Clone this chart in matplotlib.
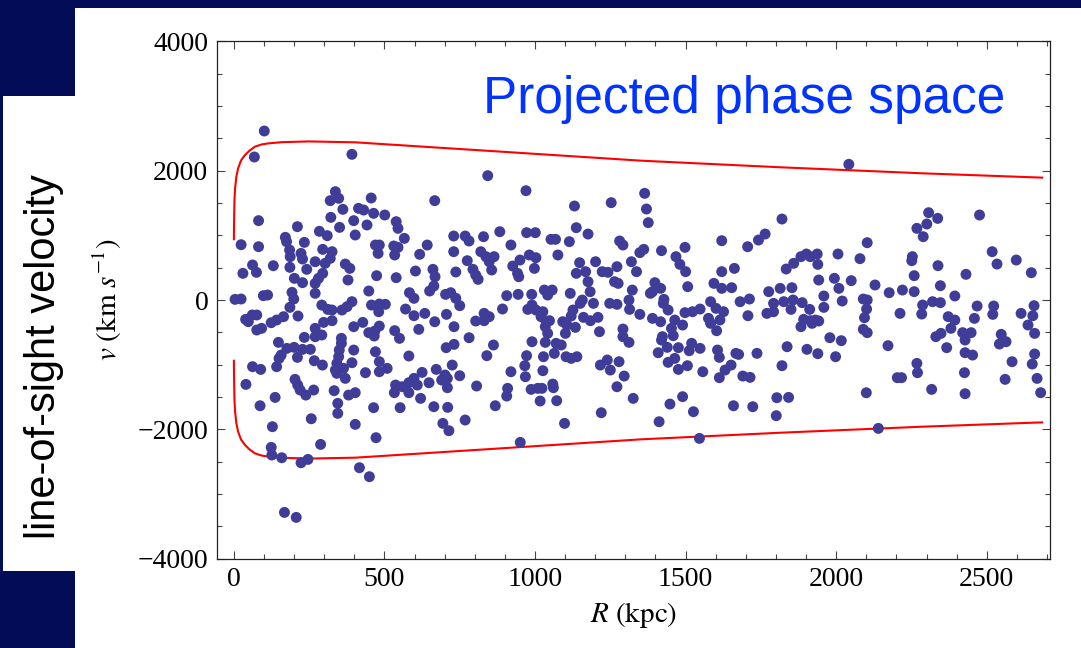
import matplotlib
matplotlib.use("Agg")
import matplotlib.pyplot as plt
from matplotlib.patches import Rectangle
from matplotlib.ticker import MultipleLocator

# projected radius R (kpc), line-of-sight velocity v (km/s)
band_0_400 = [
    (101, 2613), (68, 2211), (392, 2252), (337, 1675), (320, 1536), (348, 1572), (362, 1402),
    (82, 1227), (322, 1278), (351, 1123), (398, 1227), (211, 1134), (284, 1062), (310, 995),
    (403, 1005), (24, 855), (82, 824), (171, 969), (175, 902), (234, 891), (185, 773), (187, 670),
    (223, 721), (228, 634), (295, 783), (326, 747), (320, 644), (303, 567), (270, 592), (370, 556),
    (385, 489), (379, 309), (62, 541), (75, 428), (30, 412), (131, 530), (186, 505), (242, 474),
    (201, 335), (228, 268), (270, 257), (281, 335), (295, 412), (270, 103), (193, 118), (199, 15),
    (4, 10), (24, 15), (98, 67), (112, 77), (186, -114), (213, -248), (292, -78), (312, -145),
    (326, -155), (359, -155), (376, -103), (392, -26), (39, -299), (61, -232), (76, -232),
    (48, -335), (76, -464), (92, -438), (124, -351), (142, -310), (165, -258), (298, -346),
    (270, -438), (326, -320), (398, -413), (234, -578), (270, -567), (292, -541), (148, -655),
    (176, -748), (200, -732), (157, -851), (150, -903), (228, -763), (254, -763), (211, -887),
    (357, -593), (357, -670), (350, -774), (348, -877), (342, -980), (337, -1083), (342, -1134),
    (364, -1057), (370, -1212), (398, -774), (267, -939), (294, -1006), (392, -970), (62, -1031),
    (89, -1073), (142, -1031), (40, -1305), (203, -1227), (212, -1315), (220, -1392), (239, -1470),
    (265, -1392), (333, -1402), (381, -1470), (403, -1433), (137, -1506), (87, -1635),
    (345, -1598), (345, -1753), (257, -1836), (403, -1923), (128, -1959), (288, -2233),
    (124, -2279), (126, -2397), (159, -2439), (223, -2516), (246, -2465), (168, -3284),
    (207, -3361),
]

band_400_870 = [
    (843, 1922), (456, 1577), (667, 1536), (414, 1417), (431, 1391), (464, 1340), (501, 1314),
    (442, 1160), (539, 1211), (545, 1108), (566, 953), (470, 850), (483, 850), (479, 721),
    (531, 835), (545, 814), (534, 696), (642, 850), (617, 706), (730, 989), (768, 989), (781, 912),
    (829, 979), (730, 747), (775, 608), (820, 747), (837, 670), (848, 592), (856, 464), (864, 670),
    (794, 474), (803, 386), (811, 319), (737, 433), (603, 448), (661, 474), (668, 360), (474, 376),
    (539, 345), (448, 139), (583, 113), (598, 26), (570, -140), (598, -243), (650, 139), (664, 216),
    (703, 87), (720, 113), (737, 26), (750, -88), (457, -78), (483, -62), (503, -67), (481, -181),
    (634, -207), (667, -336), (706, -222), (803, -325), (831, -207), (848, -258), (831, -320),
    (428, -346), (448, -505), (468, -480), (483, -403), (466, -557), (534, -474), (550, -593),
    (614, -454), (731, -413), (781, -583), (705, -737), (731, -686), (862, -696), (840, -861),
    (470, -800), (483, -954), (483, -1109), (509, -1057), (581, -866), (437, -1124), (672, -1073),
    (725, -1006), (701, -1160), (709, -1212), (750, -1171), (709, -1356), (690, -1238),
    (625, -1119), (648, -1279), (620, -1521), (609, -1315), (598, -1212), (581, -1279),
    (559, -1341), (581, -1433), (537, -1315), (533, -1433), (806, -1330), (868, -1635),
    (464, -1665), (552, -1665), (664, -1650), (710, -1660), (768, -1856), (694, -1908),
    (714, -2021), (472, -2129), (417, -2593), (450, -2732),
]

band_870_1340 = [
    (970, 1690), (1131, 1453), (1253, 1505), (883, 1056), (972, 1041), (1001, 1041), (920, 850),
    (1053, 938), (1068, 938), (1137, 1118), (1176, 1020), (1114, 902), (1281, 912), (1292, 850),
    (1076, 696), (981, 696), (1003, 654), (998, 489), (926, 525), (950, 618), (942, 412),
    (946, 360), (1148, 577), (1137, 412), (1168, 438), (1201, 592), (1223, 438), (1242, 428),
    (1272, 515), (1320, 592), (1337, 438), (1264, 283), (1276, 257), (1176, 283), (1183, 128),
    (1117, 103), (1031, 154), (1057, 154), (1042, 77), (906, 67), (944, 87), (989, 87), (892, -139),
    (976, -145), (990, -78), (1003, -155), (1026, -181), (1020, -258), (1037, -335), (1048, -320),
    (1034, -413), (1157, -1), (1150, -52), (1194, -52), (1126, -155), (1120, -248), (1092, -335),
    (1106, -387), (1134, -423), (1101, -516), (1161, -268), (1184, -320), (1209, -268),
    (1248, -52), (1272, -67), (1312, -1), (1314, -145), (1323, 154), (1214, -490), (1292, -449),
    (1292, -567), (1312, -655), (1042, -516), (1034, -655), (990, -645), (1070, -670),
    (1087, -696), (1064, -825), (1103, -877), (1120, -903), (1139, -877), (972, -861),
    (966, -1016), (968, -1186), (1028, -877), (1026, -1093), (920, -1109), (1217, -1006),
    (1240, -928), (1250, -1083), (1279, -954), (1296, -1176), (909, -1366), (906, -1485),
    (987, -1382), (1009, -1366), (1023, -1366), (1059, -1300), (1061, -1356), (1017, -1562),
    (1072, -1557), (1272, -1341), (1326, -1521), (1220, -1743), (1098, -1908), (951, -2202),
]

band_1340_1800 = [
    (1364, 1649), (1370, 1407), (1376, 1196), (1620, 917), (1706, 824), (1742, 927), (1764, 1020),
    (1348, 732), (1361, 783), (1420, 763), (1498, 814), (1468, 670), (1481, 551), (1500, 438),
    (1398, 268), (1383, 103), (1417, 180), (1390, 128), (1507, 206), (1428, 10), (1442, -155),
    (1426, -52), (1348, -222), (1390, -284), (1417, -336), (1464, -310), (1490, -387),
    (1498, -196), (1523, -181), (1548, -140), (1453, -438), (1459, -552), (1423, -567),
    (1420, -619), (1594, 257), (1620, 438), (1620, 180), (1653, 190), (1662, 489), (1583, -26),
    (1601, -129), (1626, -181), (1614, -309), (1576, -284), (1583, -361), (1603, -475),
    (1681, -26), (1712, 15), (1707, -243), (1770, -207), (1792, -181), (1776, 129), (1792, -52),
    (1439, -732), (1476, -737), (1409, -815), (1442, -964), (1464, -903), (1476, -1073),
    (1506, -1016), (1520, -670), (1512, -784), (1548, -748), (1606, -774), (1612, -887),
    (1667, -825), (1676, -841), (1737, -825), (1557, -1109), (1651, -1006), (1631, -1083),
    (1612, -1201), (1690, -1176), (1714, -1196), (1490, -1495), (1448, -1609), (1526, -1727),
    (1412, -1882), (1659, -1635), (1723, -1650), (1803, -1511), (1801, -1789), (1546, -2140),
]

band_1800_2270 = [
    (2042, 2098), (1820, 1252), (2103, 886), (2268, 1108), (1834, 479), (1859, 567), (1883, 670),
    (1901, 711), (1914, 670), (1937, 711), (1939, 551), (2006, 711), (2079, 639), (2253, 670),
    (2251, 608), (1942, 309), (1814, 180), (1853, 190), (1994, 335), (2009, 180), (2050, 299),
    (2129, 232), (2259, 376), (1959, 62), (2020, -16), (1826, -26), (1857, 0), (1850, -145),
    (1887, -41), (1912, -145), (1959, -114), (2090, 15), (2103, 0), (2101, -140), (2094, -274),
    (2176, 113), (2220, 154), (2259, 129), (2212, -207), (1892, -299), (1914, -320), (1931, -310),
    (1942, -325), (1920, -361), (1883, -413), (1979, -583), (2017, -629), (2090, -454),
    (2103, -505), (1837, -722), (1903, -763), (1939, -830), (1998, -877), (2172, -706),
    (1820, -1016), (2268, -980), (2270, -1124), (2203, -1201), (2217, -1201), (1842, -1506),
    (2100, -1434), (2140, -1985),
]

band_2270_2700 = [
    (2476, 1314), (2307, 1350), (2337, 1262), (2301, 1175), (2289, 979), (2518, 747), (2534, 556),
    (2598, 618), (2648, 422), (2338, 531), (2431, 397), (2346, 221), (2394, 62), (2287, -78),
    (2284, -217), (2320, -26), (2346, -41), (2468, -93), (2523, -93), (2520, -222), (2657, -88),
    (2653, -243), (2614, -207), (2637, -387), (2659, -516), (2372, -258), (2394, -310),
    (2381, -438), (2459, -284), (2331, -567), (2348, -516), (2420, -505), (2448, -505),
    (2428, -619), (2367, -737), (2548, -531), (2564, -645), (2542, -681), (2428, -815),
    (2453, -851), (2659, -835), (2651, -990), (2584, -954), (2426, -1124), (2561, -1227),
    (2667, -1212), (2317, -1382), (2428, -1449), (2679, -1433),
]

# escape-velocity envelope (upper branch; lower branch is its mirror)
env_r = [0, 1, 2, 4, 8, 14, 24, 37, 52, 70, 92, 115, 159, 248, 403, 886, 1353, 1820, 2286, 2684]
env_v = [940, 1300, 1550, 1720, 1900, 2036, 2160, 2242, 2310, 2371, 2405, 2422, 2440, 2452,
         2438, 2294, 2154, 2051, 1959, 1892]

NAVY = "#030c56"
DOT = "#3f3d98"
SERIF = "Liberation Serif"


def main():
    plt.rcParams["mathtext.fontset"] = "stix"
    fig = plt.figure(figsize=(10.81, 6.48), dpi=100, facecolor="white")

    # slide frame
    W, H = 1081, 648
    for x, y, w, h in [(0, H - 8, W, 8), (0, H - 96, 75, 88), (0, 0, 75, 77), (0, 0, 3, H)]:
        fig.patches.append(Rectangle((x / W, y / H), w / W, h / H, transform=fig.transFigure,
                                     facecolor=NAVY, edgecolor="none", zorder=0))

    ax = fig.add_axes([216.7 / W, 1 - 558.7 / H, (1050 - 216.7) / W, (558.7 - 41.3) / H])

    pts = band_0_400 + band_400_870 + band_870_1340 + band_1340_1800 + band_1800_2270 + band_2270_2700
    r = [p[0] for p in pts]
    v = [p[1] for p in pts]
    ax.scatter(r, v, s=62, color=DOT, edgecolors="none", zorder=3)

    ax.plot(env_r, env_v, color="red", lw=1.5, zorder=2)
    ax.plot(env_r, [-x for x in env_v], color="red", lw=1.5, zorder=2)

    ax.set_xlim(-57, 2710)
    ax.set_ylim(-4000, 4000)
    ax.xaxis.set_major_locator(MultipleLocator(500))
    ax.xaxis.set_minor_locator(MultipleLocator(100))
    ax.yaxis.set_major_locator(MultipleLocator(2000))
    ax.yaxis.set_minor_locator(MultipleLocator(500))
    ax.tick_params(which="both", direction="in", top=True, right=True, color="#444444", width=0.8)
    ax.tick_params(which="major", length=6, labelsize=20, pad=6)
    ax.tick_params(which="minor", length=3.5)
    for lab in ax.get_xticklabels() + ax.get_yticklabels():
        lab.set_fontfamily(SERIF)
    for sp in ax.spines.values():
        sp.set_linewidth(0.9)
        sp.set_color("#222222")

    ax.set_xlabel(r"$R\ \mathrm{(kpc)}$", fontsize=21, labelpad=6)
    ax.set_ylabel(r"$v\ (\mathrm{km}\ s^{-1})$", fontsize=21, labelpad=10)

    ax.text(0.946, 0.888, "Projected phase space", transform=ax.transAxes, ha="right", va="center",
            fontsize=37, color="#0033ff", family="Liberation Sans")

    fig.text(44 / W, 1 - 357 / H, "line-of-sight velocity", rotation=90, ha="center", va="center",
             fontsize=30, family="Liberation Sans", color="black")

    fig.savefig("out.png", dpi=100, facecolor=fig.get_facecolor())


if __name__ == "__main__":
    main()
